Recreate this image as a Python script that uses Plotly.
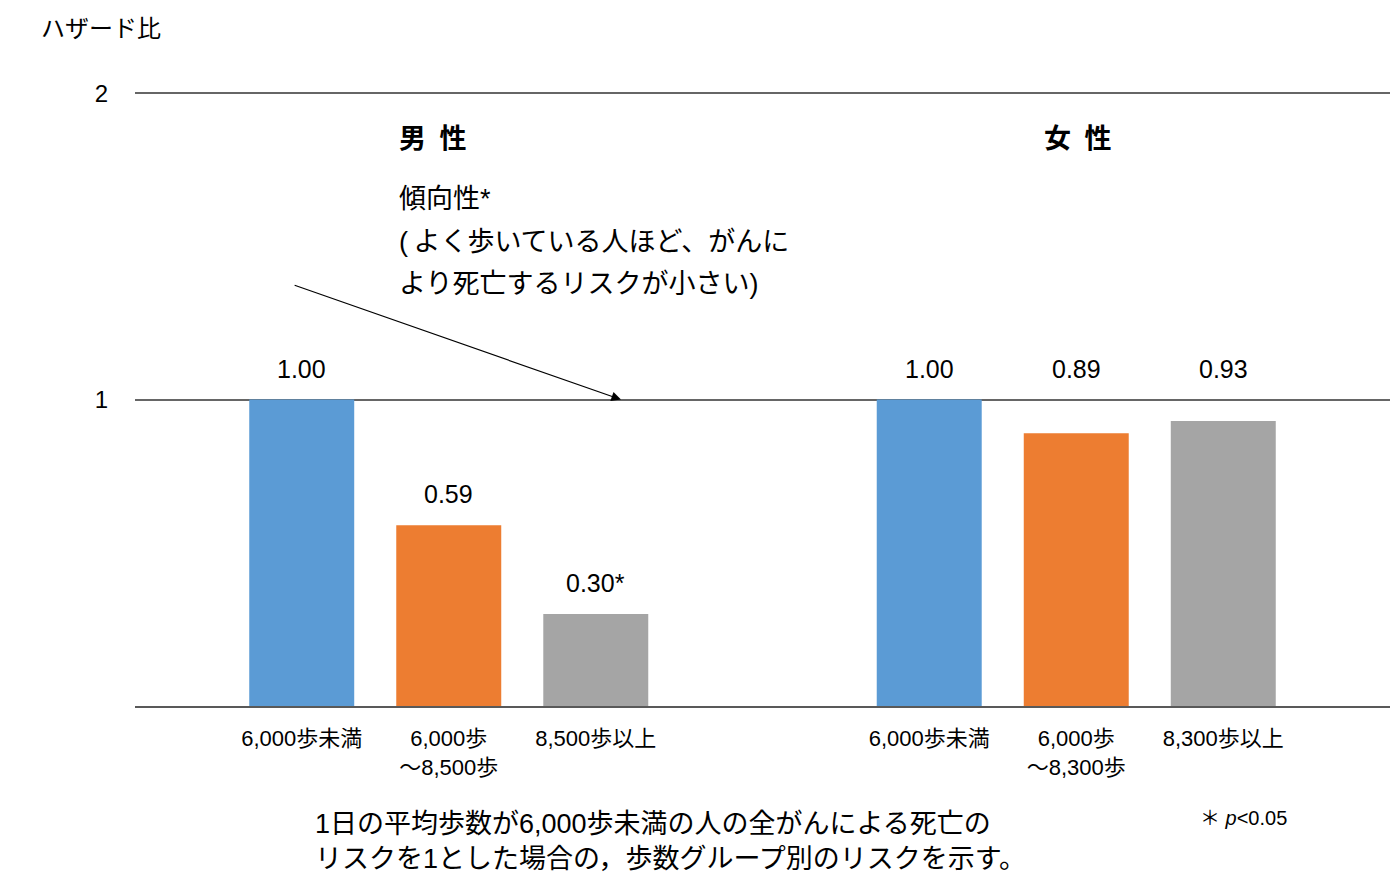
"""
Hazard ratio of all-cancer death by daily step group, men and women.
"""

import plotly.graph_objects as go

# Data
groups = ["男性", "女性"]
group_titles = ["男\u2002性", "女\u2002性"]
series_colors = ["#5B9BD5", "#ED7D31", "#A5A5A5"]
hazard = [
    [1.00, 1.00],  # 6,000歩未満
    [0.59, 0.89],  # middle group
    [0.30, 0.93],  # top group
]
value_labels = [
    ["1.00", "1.00"],
    ["0.59", "0.89"],
    ["0.30*", "0.93"],
]
tick_labels = [
    ["6,000歩未満", "6,000歩未満"],
    ["6,000歩<br>～8,500歩", "6,000歩<br>～8,300歩"],
    ["8,500歩以上", "8,300歩以上"],
]
trend_lines = [
    "傾向性*",
    "(\u2009よく歩いている人ほど、がんに",
    "より死亡するリスクが小さい)",
]
footnote = ("1日の平均歩数が6,000歩未満の人の全がんによる死亡の<br>"
            "リスクを1とした場合の，歩数グループ別のリスクを示す。")

FONT = "Liberation Sans, Noto Sans CJK JP, sans-serif"
step = 0.2343      # distance between bars inside a group (category units)
bar_w = 0.1673
title_x = [-0.0825, 0.9454]

fig = go.Figure()

tickvals, ticktext = [], []
for s, vals in enumerate(hazard):
    xs = [g + (s - 1) * step for g in range(len(groups))]
    fig.add_trace(
        go.Bar(
            x=xs,
            y=vals,
            width=bar_w,
            marker=dict(color=series_colors[s], line=dict(width=0)),
            hoverinfo="y",
            showlegend=False,
        )
    )
    for g, x in enumerate(xs):
        tickvals.append(x)
        ticktext.append(tick_labels[s][g])
        # labels close to the reference line are lifted above it
        label_y = 1.0 if abs(vals[g] - 1.0) < 0.15 else vals[g]
        fig.add_annotation(
            x=x, y=label_y, text=value_labels[s][g],
            showarrow=False, yanchor="bottom", yshift=15,
            font=dict(size=25, color="#000000", family=FONT),
        )

# group titles
for g in range(len(groups)):
    fig.add_annotation(
        x=title_x[g], y=1.85, text=f"<b>{group_titles[g]}</b>",
        showarrow=False, xanchor="left", yanchor="middle",
        font=dict(size=27, color="#000000", family=FONT),
    )

# trend note for men
for i, line in enumerate(trend_lines):
    fig.add_annotation(
        x=-0.0825, y=1.655 - i * 0.139, text=line,
        showarrow=False, xanchor="left", yanchor="middle",
        font=dict(size=27, color="#000000", family=FONT),
    )

fig.add_annotation(
    x=0.2745, y=1.0, ax=-0.248, ay=1.375,
    xref="x", yref="y", axref="x", ayref="y",
    text="", showarrow=True, arrowhead=2, arrowsize=1.6,
    arrowwidth=1.2, arrowcolor="#000000",
)

# y axis title
fig.add_annotation(
    xref="paper", yref="paper", x=-0.0765, y=1.104,
    text="ハザード比", showarrow=False, xanchor="left", yanchor="middle",
    font=dict(size=24, color="#000000", family=FONT),
)

# footnotes
fig.add_annotation(
    xref="paper", yref="paper", x=0.1418, y=-0.2207,
    text=footnote,
    showarrow=False, xanchor="left", yanchor="middle", align="left",
    font=dict(size=27, color="#000000", family=FONT),
)
fig.add_annotation(
    xref="paper", yref="paper", x=0.847, y=-0.1824,
    text="＊ <i>p</i>&lt;0.05",
    showarrow=False, xanchor="left", yanchor="middle",
    font=dict(size=20, color="#000000", family=FONT),
)

fig.update_xaxes(
    range=[-0.5, 1.5],
    tickvals=tickvals,
    ticktext=ticktext,
    tickfont=dict(size=22, color="#000000", family=FONT),
    ticks="",
    ticklabelstandoff=12,
    showgrid=False,
    zeroline=False,
    showline=True,
    linecolor="#595959",
    linewidth=1.5,
)
fig.update_yaxes(
    range=[0, 2.004],
    tickvals=[1, 2],
    tickfont=dict(size=24, color="#000000", family=FONT),
    ticklabelstandoff=26,
    showgrid=True,
    gridcolor="#666666",
    gridwidth=1.8,
    zeroline=False,
    showline=False,
)

fig.update_layout(
    width=1392,
    height=882,
    margin=dict(l=127, r=10, t=84, b=184),
    plot_bgcolor="white",
    paper_bgcolor="white",
    font=dict(family=FONT, color="#000000"),
    showlegend=False,
)

fig.write_html("out.html")
